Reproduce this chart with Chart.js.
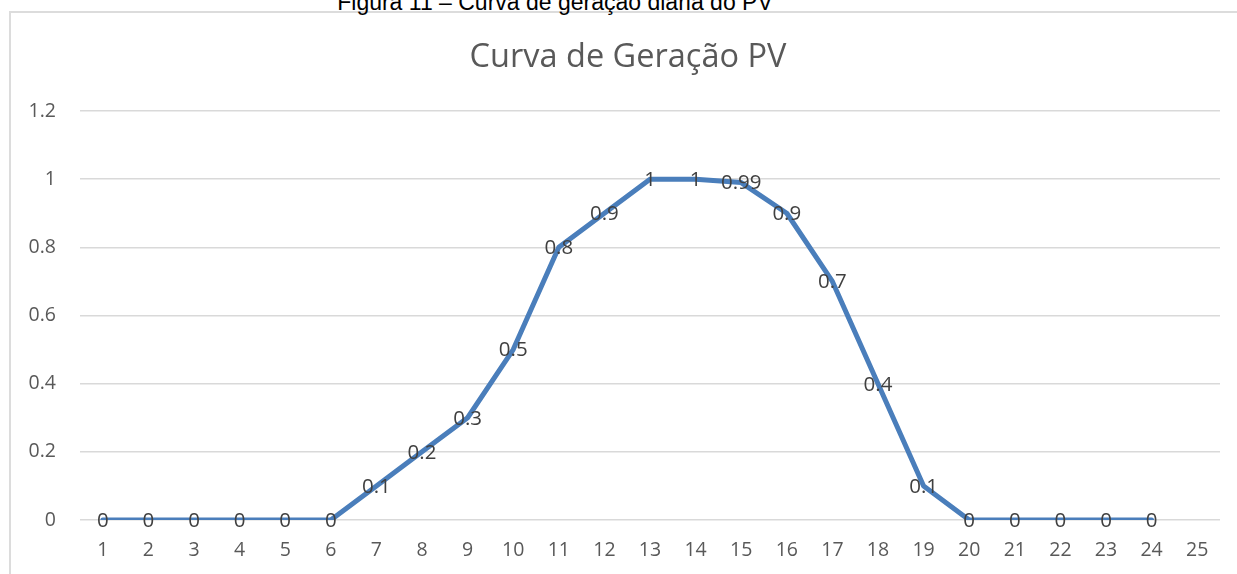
<!DOCTYPE html>
<html>
<head>
<meta charset="utf-8">
<script src="https://cdn.jsdelivr.net/npm/chart.js@4.4.0/dist/chart.umd.min.js"></script>
<style>
    html, body { margin: 0; padding: 0; background: #fff; overflow: hidden; }
    body { width: 1237px; height: 574px; position: relative; }
    #frame {
        position: absolute; left: 9px; top: 11px; width: 1300px; height: 700px;
        border-left: 2px solid #dcdcdc; border-top: 2px solid #dcdcdc;
    }
    #caption {
        position: absolute; left: 255px; top: -9px; width: 600px; text-align: center;
        font-family: "Liberation Sans", Arial, sans-serif; font-size: 23px; line-height: 23px; color: #000;
    }
    #wrap { position: absolute; left: 0; top: 0; width: 1256px; height: 574px; }
</style>
</head>
<body>
<div id="frame"></div>
<div id="caption">Figura 11 – Curva de geração diária do PV</div>
<div id="wrap"><canvas id="pv_chart" width="1256" height="574"></canvas></div>
<script>
const chartTitle = 'Curva de Geração PV';
const hours = ['1', '2', '3', '4', '5', '6', '7', '8', '9', '10', '11', '12', '13',
    '14', '15', '16', '17', '18', '19', '20', '21', '22', '23', '24', '25'];
const generation = [0, 0, 0, 0, 0, 0, 0.1, 0.2, 0.3, 0.5, 0.8, 0.9, 1,
    1, 0.99, 0.9, 0.7, 0.4, 0.1, 0, 0, 0, 0, 0, null];
const yTicks = [0, 0.2, 0.4, 0.6, 0.8, 1, 1.2];

// value labels drawn centred on each point, like the Excel chart
const pointLabels = {
    id: 'pointLabels',
    afterDatasetsDraw(chart) {
        const ctx = chart.ctx;
        const meta = chart.getDatasetMeta(0);
        ctx.save();
        ctx.font = '20.5px "Open Sans"';
        ctx.fillStyle = '#404040';
        ctx.textAlign = 'center';
        ctx.textBaseline = 'middle';
        meta.data.forEach((pt, i) => {
            const v = generation[i];
            if (v === null) return;
            ctx.fillText(String(v), pt.x, pt.y + 1);
        });
        ctx.restore();
    }
};

const config = {
    type: 'line',
    data: {
        labels: hours,
        datasets: [{
            label: 'PV',
            data: generation,
            borderColor: '#4A7EBB',
            borderWidth: 5,
            borderCapStyle: 'round',
            borderJoinStyle: 'round',
            pointRadius: 0,
            tension: 0,
            fill: false
        }]
    },
    options: {
        responsive: false,
        animation: false,
        layout: {
            padding: { left: 0, right: 0, top: 38, bottom: 0 }
        },
        plugins: {
            legend: { display: false },
            tooltip: { enabled: false },
            title: {
                display: true,
                text: chartTitle,
                color: '#595959',
                font: { family: '"Open Sans"', size: 32.5, weight: 'normal', lineHeight: 1.2 },
                padding: { top: 0, bottom: 34 }
            }
        },
        scales: {
            x: {
                offset: true,
                grid: { display: false, drawTicks: false },
                border: { display: false },
                ticks: {
                    color: '#595959',
                    font: { family: '"Open Sans"', size: 19.5 },
                    padding: 19,
                    maxRotation: 0,
                    autoSkip: false
                },
                afterFit(scale) { scale.height = 54; }
            },
            y: {
                min: 0,
                max: 1.2,
                afterBuildTicks(scale) { scale.ticks = yTicks.map(v => ({ value: v })); },
                grid: { color: '#d9d9d9', lineWidth: 1.5, drawTicks: false },
                border: { display: false },
                ticks: {
                    color: '#595959',
                    font: { family: '"Open Sans"', size: 19.5 },
                    padding: 24,
                    callback: v => String(Math.round(v * 10) / 10)
                },
                afterFit(scale) { scale.width = 80; }
            },
            // empty right-hand strip so the title centres on the whole chart box
            spacer: {
                type: 'linear',
                position: 'right',
                grid: { display: false, drawTicks: false },
                border: { display: false },
                ticks: { display: false },
                afterFit(scale) { scale.width = 36; }
            }
        }
    },
    plugins: [pointLabels]
};

const chart = new Chart(document.getElementById('pv_chart'), config);
</script>
</body>
</html>
